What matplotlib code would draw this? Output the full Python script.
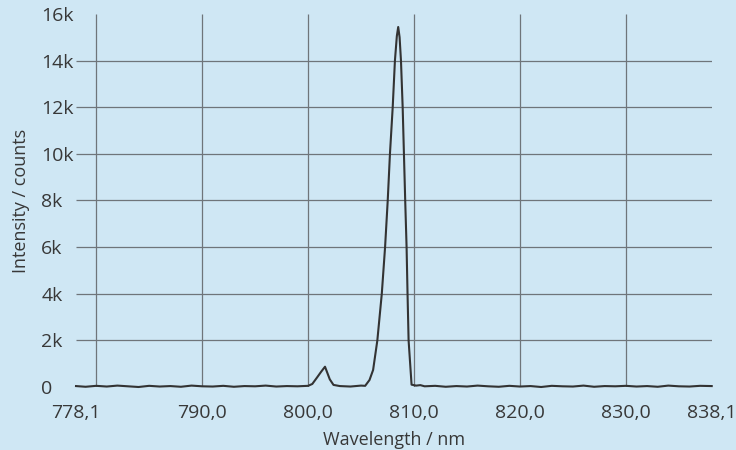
import matplotlib
matplotlib.use("Agg")
import matplotlib.pyplot as plt

# spectrum (nm, counts)
wl_left = [778.1, 779.0, 780.0, 781.0, 782.0, 783.0, 784.0, 785.0, 786.0, 787.0,
           788.0, 789.0, 790.0, 791.0, 792.0, 793.0, 794.0, 795.0, 796.0, 797.0,
           798.0, 799.0, 800.0]
int_left = [40, 10, 50, 20, 60, 30, 0, 50, 20, 40,
            10, 60, 30, 20, 50, 10, 40, 30, 60, 20,
            40, 30, 50]

wl_small = [800.4, 800.86, 801.24, 801.6, 802.05, 802.4, 803.0, 804.0, 805.0]
int_small = [130, 415, 657, 870, 330, 90, 40, 20, 60]

wl_main = [805.39, 805.8, 806.14, 806.54, 806.96, 807.27, 807.52, 807.73, 807.99,
           808.2, 808.38, 808.51, 808.64, 808.77, 808.93, 809.05, 809.17, 809.3,
           809.39, 809.49, 809.77, 810.2]
int_main = [50, 300, 730, 2000, 4000, 6000, 8000, 10000, 12000,
            14000, 15050, 15440, 15000, 14000, 12000, 10000, 8000, 6000,
            4000, 2000, 100, 60]

wl_right = [810.6, 811.0, 812.0, 813.0, 814.0, 815.0, 816.0, 817.0, 818.0, 819.0,
            820.0, 821.0, 822.0, 823.0, 824.0, 825.0, 826.0, 827.0, 828.0, 829.0,
            830.0, 831.0, 832.0, 833.0, 834.0, 835.0, 836.0, 837.0, 838.1]
int_right = [80, 30, 50, 10, 40, 20, 60, 30, 10, 50,
             20, 40, 0, 50, 30, 20, 60, 10, 40, 30,
             50, 20, 40, 10, 60, 30, 20, 50, 40]

wavelength = wl_left + wl_small + wl_main + wl_right
intensity = int_left + int_small + int_main + int_right

x_ticks = [778.1, 790.0, 800.0, 810.0, 820.0, 830.0, 838.1]
x_labels = ["778,1", "790,0", "800,0", "810,0", "820,0", "830,0", "838,1"]
y_ticks = [0, 2000, 4000, 6000, 8000, 10000, 12000, 14000, 16000]
y_labels = ["0", "2k", "4k", "6k", "8k", "10k", "12k", "14k", "16k"]
grid_x = [780, 790, 800, 810, 820, 830]
grid_y = [2000, 4000, 6000, 8000, 10000, 12000, 14000]

BG = "#cfe7f4"
TXT = "#383838"
plt.rcParams["font.family"] = ["Open Sans", "DejaVu Sans"]

fig = plt.figure(figsize=(7.36, 4.5), dpi=100, facecolor=BG)
ax = fig.add_axes([0.1033, 0.14, 0.8637, 0.829])
ax.set_facecolor(BG)

ax.vlines(grid_x, 0, 16000, color="#6f757a", linewidth=0.9, zorder=1)
ax.hlines(grid_y, 778.1, 838.1, color="#6f757a", linewidth=0.9, zorder=1)
ax.plot(wavelength, intensity, color="#333333", linewidth=1.5, zorder=3,
        clip_on=False, solid_joinstyle="round")

ax.set_xlim(778.1, 838.1)
ax.set_ylim(0, 16000)
for s in ax.spines.values():
    s.set_visible(False)

ax.set_xticks(x_ticks)
ax.set_xticklabels(x_labels)
ax.set_yticks(y_ticks)
ax.set_yticklabels(y_labels, ha="left")
ax.tick_params(axis="x", length=0, pad=12, labelsize=14, colors=TXT)
ax.tick_params(axis="y", length=0, pad=25, labelsize=14, colors=TXT)

ax.set_xlabel("Wavelength / nm", fontsize=13, color=TXT, labelpad=7)
ax.set_ylabel("Intensity / counts", fontsize=13, color=TXT, labelpad=8)

fig.savefig("out.png", dpi=100, facecolor=BG)
